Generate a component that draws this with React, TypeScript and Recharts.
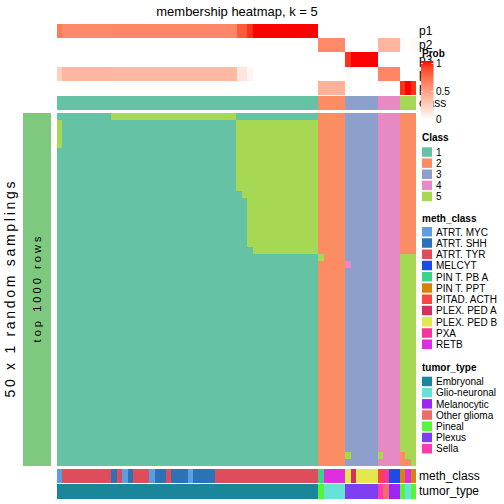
import React from 'react';
import { ComposedChart, XAxis, YAxis, ReferenceArea } from 'recharts';

const FONT = '"Liberation Sans", Arial, Helvetica, sans-serif';

// ---------- data ----------
const classLevels = ['1', '2', '3', '4', '5'];
const classColors = ['#66C2A5', '#FC8D62', '#8DA0CB', '#E78AC3', '#A6D854'];

const sampleClass = [
  1, 1, 1, 1, 1, 1, 1, 1,
  1, 1, 1, 1, 1, 1, 1, 1,
  1, 1, 1, 1, 1, 1, 1, 1,
  1, 1, 1, 1, 1, 1, 1, 1,
  1, 1, 1, 1, 1, 1, 1, 1,
  1, 1, 1, 1, 1, 1, 1, 1,
  2, 2, 2, 2, 2,
  3, 3, 3, 3, 3, 3,
  4, 4, 4, 4,
  5, 5, 5,
];

const p1 = [
  0.66, 0.6, 0.6, 0.6, 0.6, 0.6, 0.6, 0.6,
  0.6, 0.6, 0.61, 0.61, 0.61, 0.61, 0.61, 0.61,
  0.61, 0.61, 0.61, 0.61, 0.61, 0.61, 0.61, 0.61,
  0.61, 0.61, 0.61, 0.61, 0.61, 0.61, 0.61, 0.61,
  0.61, 0.8, 0.8, 0.93, 1, 1, 1, 1,
  1, 1, 1, 1, 1, 1, 1, 1,
  0, 0, 0, 0, 0,
  0, 0, 0, 0, 0, 0,
  0, 0, 0, 0,
  0, 0, 0,
];
const p2 = [
  0, 0, 0, 0, 0, 0, 0, 0,
  0, 0, 0, 0, 0, 0, 0, 0,
  0, 0, 0, 0, 0, 0, 0, 0,
  0, 0, 0, 0, 0, 0, 0, 0,
  0, 0, 0, 0, 0, 0, 0, 0,
  0, 0, 0, 0, 0, 0, 0, 0,
  0.6, 0.6, 0.6, 0.6, 0.6,
  0, 0, 0, 0, 0, 0,
  0.38, 0.38, 0.38, 0.38,
  0.03, 0, 0.03,
];
const p3 = [
  0, 0, 0, 0, 0, 0, 0, 0,
  0, 0, 0, 0, 0, 0, 0, 0,
  0, 0, 0, 0, 0, 0, 0, 0,
  0, 0, 0, 0, 0, 0, 0, 0,
  0, 0, 0, 0, 0, 0, 0, 0,
  0, 0, 0, 0, 0, 0, 0, 0,
  0, 0, 0, 0, 0,
  0.93, 1, 1, 1, 1, 1,
  0, 0, 0, 0,
  0, 0, 0,
];
const p4 = [
  0.25, 0.38, 0.38, 0.38, 0.38, 0.38, 0.38, 0.38,
  0.38, 0.38, 0.37, 0.37, 0.37, 0.37, 0.37, 0.37,
  0.37, 0.37, 0.37, 0.37, 0.37, 0.37, 0.37, 0.37,
  0.37, 0.37, 0.37, 0.37, 0.37, 0.37, 0.37, 0.37,
  0.37, 0.13, 0.13, 0.05, 0, 0, 0, 0,
  0, 0, 0, 0, 0, 0, 0, 0,
  0, 0, 0, 0, 0,
  0.02, 0, 0, 0, 0, 0,
  0.62, 0.62, 0.62, 0.62,
  0, 0, 0,
];
const p5 = [
  0, 0, 0, 0, 0, 0, 0, 0,
  0, 0, 0, 0, 0, 0, 0, 0,
  0, 0, 0, 0, 0, 0, 0, 0,
  0, 0, 0, 0, 0, 0, 0, 0,
  0, 0, 0, 0, 0, 0, 0, 0,
  0, 0, 0, 0, 0, 0, 0, 0,
  0.4, 0.4, 0.4, 0.4, 0.4,
  0.03, 0, 0, 0, 0, 0,
  0.02, 0, 0, 0,
  0.93, 1, 0.93,
];
const probLabels = ['p1', 'p2', 'p3', 'p4', 'p5'];

const methLevels = ['ATRT. MYC', 'ATRT. SHH', 'ATRT. TYR', 'MELCYT', 'PIN T. PB A', 'PIN T. PPT',
  'PITAD. ACTH', 'PLEX. PED A', 'PLEX. PED B', 'PXA', 'RETB'];
const methColors = ['#5B9FE3', '#2C72B6', '#DD4D5C', '#1E4AE6', '#3DD18A', '#D8820A',
  '#FC4444', '#D42F63', '#E5E84D', '#FA3599', '#DF2EDF'];
const methClass = [
  'ATRT. MYC', 'ATRT. TYR', 'ATRT. TYR', 'ATRT. TYR', 'ATRT. TYR', 'ATRT. TYR', 'ATRT. TYR', 'ATRT. TYR',
  'ATRT. TYR', 'ATRT. TYR', 'ATRT. SHH', 'ATRT. TYR', 'ATRT. MYC', 'ATRT. SHH', 'ATRT. TYR', 'ATRT. TYR',
  'ATRT. TYR', 'ATRT. MYC', 'ATRT. SHH', 'ATRT. SHH', 'ATRT. TYR', 'ATRT. SHH', 'ATRT. SHH', 'ATRT. SHH',
  'ATRT. MYC', 'ATRT. SHH', 'ATRT. SHH', 'ATRT. SHH', 'ATRT. SHH', 'ATRT. TYR', 'ATRT. TYR', 'ATRT. TYR',
  'ATRT. TYR', 'ATRT. TYR', 'ATRT. TYR', 'ATRT. TYR', 'ATRT. TYR', 'ATRT. TYR', 'ATRT. TYR', 'ATRT. TYR',
  'ATRT. TYR', 'ATRT. TYR', 'ATRT. TYR', 'ATRT. TYR', 'ATRT. TYR', 'ATRT. TYR', 'ATRT. TYR', 'ATRT. TYR',
  'PIN T. PB A', 'RETB', 'RETB', 'RETB', 'RETB',
  'PLEX. PED B', 'PLEX. PED A', 'PLEX. PED B', 'PLEX. PED B', 'PLEX. PED B', 'PLEX. PED B',
  'PITAD. ACTH', 'PXA', 'MELCYT', 'MELCYT',
  'PIN T. PPT', 'RETB', 'PIN T. PPT',
];

const tumorLevels = ['Embryonal', 'Glio-neuronal', 'Melanocytic', 'Other glioma', 'Pineal', 'Plexus', 'Sella'];
const tumorColors = ['#1A869A', '#66E3D5', '#9F26F2', '#F46B6B', '#55F53A', '#7E3FF2', '#FF3AAC'];
const tumorType = [
  'Embryonal', 'Embryonal', 'Embryonal', 'Embryonal', 'Embryonal', 'Embryonal', 'Embryonal', 'Embryonal',
  'Embryonal', 'Embryonal', 'Embryonal', 'Embryonal', 'Embryonal', 'Embryonal', 'Embryonal', 'Embryonal',
  'Embryonal', 'Embryonal', 'Embryonal', 'Embryonal', 'Embryonal', 'Embryonal', 'Embryonal', 'Embryonal',
  'Embryonal', 'Embryonal', 'Embryonal', 'Embryonal', 'Embryonal', 'Embryonal', 'Embryonal', 'Embryonal',
  'Embryonal', 'Embryonal', 'Embryonal', 'Embryonal', 'Embryonal', 'Embryonal', 'Embryonal', 'Embryonal',
  'Embryonal', 'Embryonal', 'Embryonal', 'Embryonal', 'Embryonal', 'Embryonal', 'Embryonal', 'Embryonal',
  'Pineal', 'Glio-neuronal', 'Glio-neuronal', 'Glio-neuronal', 'Glio-neuronal',
  'Plexus', 'Plexus', 'Plexus', 'Plexus', 'Plexus', 'Plexus',
  'Sella', 'Other glioma', 'Melanocytic', 'Melanocytic',
  'Pineal', 'Glio-neuronal', 'Pineal',
];

// class assigned in each of the 50 random samplings (rows) for each of the 66 samples (columns)
const samplingRows = [
  '11111111 11555555 55555555 55555555 51111111 11111111 | 22222 333333 4444 222',
  '51111111 11111111 11111111 11111111 15555555 55555555 | 22222 333333 4444 222',
  '51111111 11111111 11111111 11111111 15555555 55555555 | 22222 333333 4444 222',
  '51111111 11111111 11111111 11111111 15555555 55555555 | 22222 333333 4444 222',
  '51111111 11111111 11111111 11111111 15555555 55555555 | 22222 333333 4444 222',
  '11111111 11111111 11111111 11111111 15555555 55555555 | 22222 333333 4444 222',
  '11111111 11111111 11111111 11111111 15555555 55555555 | 22222 333333 4444 222',
  '11111111 11111111 11111111 11111111 15555555 55555555 | 22222 333333 4444 222',
  '11111111 11111111 11111111 11111111 15555555 55555555 | 22222 333333 4444 222',
  '11111111 11111111 11111111 11111111 15555555 55555555 | 22222 333333 4444 222',
  '11111111 11111111 11111111 11111111 15555555 55555555 | 22222 333333 4444 222',
  '11111111 11111111 11111111 11111111 11555555 55555555 | 22222 333333 4444 222',
  '11111111 11111111 11111111 11111111 11155555 55555555 | 22222 333333 4444 222',
  '11111111 11111111 11111111 11111111 11155555 55555555 | 22222 333333 4444 222',
  '11111111 11111111 11111111 11111111 11155555 55555555 | 22222 333333 4444 222',
  '11111111 11111111 11111111 11111111 11155555 55555555 | 22222 333333 4444 222',
  '11111111 11111111 11111111 11111111 11155555 55555555 | 22222 333333 4444 222',
  '11111111 11111111 11111111 11111111 11155555 55555555 | 22222 333333 4444 222',
  '11111111 11111111 11111111 11111111 11155555 55555555 | 22222 333333 4444 222',
  '11111111 11111111 11111111 11111111 11115555 55555555 | 22222 333333 4444 222',
  '11111111 11111111 11111111 11111111 11111111 11111111 | 52222 333333 4444 555',
  '11111111 11111111 11111111 11111111 11111111 11111111 | 22222 433333 4444 555',
  '11111111 11111111 11111111 11111111 11111111 11111111 | 22222 333333 4444 555',
  '11111111 11111111 11111111 11111111 11111111 11111111 | 22222 333333 4444 555',
  '11111111 11111111 11111111 11111111 11111111 11111111 | 22222 333333 4444 555',
  '11111111 11111111 11111111 11111111 11111111 11111111 | 22222 333333 4444 555',
  '11111111 11111111 11111111 11111111 11111111 11111111 | 22222 333333 4444 555',
  '11111111 11111111 11111111 11111111 11111111 11111111 | 22222 333333 4444 555',
  '11111111 11111111 11111111 11111111 11111111 11111111 | 22222 333333 4444 555',
  '11111111 11111111 11111111 11111111 11111111 11111111 | 22222 333333 4444 555',
  '11111111 11111111 11111111 11111111 11111111 11111111 | 22222 333333 4444 555',
  '11111111 11111111 11111111 11111111 11111111 11111111 | 22222 333333 4444 555',
  '11111111 11111111 11111111 11111111 11111111 11111111 | 22222 333333 4444 555',
  '11111111 11111111 11111111 11111111 11111111 11111111 | 22222 333333 4444 555',
  '11111111 11111111 11111111 11111111 11111111 11111111 | 22222 333333 4444 555',
  '11111111 11111111 11111111 11111111 11111111 11111111 | 22222 333333 4444 555',
  '11111111 11111111 11111111 11111111 11111111 11111111 | 22222 333333 4444 555',
  '11111111 11111111 11111111 11111111 11111111 11111111 | 22222 333333 4444 555',
  '11111111 11111111 11111111 11111111 11111111 11111111 | 22222 333333 4444 555',
  '11111111 11111111 11111111 11111111 11111111 11111111 | 22222 333333 4444 555',
  '11111111 11111111 11111111 11111111 11111111 11111111 | 22222 333333 4444 555',
  '11111111 11111111 11111111 11111111 11111111 11111111 | 22222 333333 4444 555',
  '11111111 11111111 11111111 11111111 11111111 11111111 | 22222 333333 4444 555',
  '11111111 11111111 11111111 11111111 11111111 11111111 | 22222 333333 4444 555',
  '11111111 11111111 11111111 11111111 11111111 11111111 | 22222 333333 4444 555',
  '11111111 11111111 11111111 11111111 11111111 11111111 | 22222 333333 4444 555',
  '11111111 11111111 11111111 11111111 11111111 11111111 | 22222 333333 4444 555',
  '11111111 11111111 11111111 11111111 11111111 11111111 | 22222 333333 4444 555',
  '11111111 11111111 11111111 11111111 11111111 11111111 | 22222 533333 5444 255',
  '11111111 11111111 11111111 11111111 11111111 11111111 | 22222 333333 4444 225',
];

const rowSplitLabel = 'top 1000 rows';
const rowSplitColor = '#7FC97F';
const probTicks = [0, 0.5, 1];

// ---------- colour helpers ----------
function labToHex(L: number, a: number, b: number): string {
  const fy = (L + 16) / 116;
  const fx = fy + a / 500;
  const fz = fy - b / 200;
  const inv = (t: number) => (t > 6 / 29 ? t * t * t : 3 * (6 / 29) * (6 / 29) * (t - 4 / 29));
  const X = 0.95047 * inv(fx);
  const Y = inv(fy);
  const Z = 1.08883 * inv(fz);
  const lin = [
    3.2406 * X - 1.5372 * Y - 0.4986 * Z,
    -0.9689 * X + 1.8758 * Y + 0.0415 * Z,
    0.0557 * X - 0.204 * Y + 1.057 * Z,
  ];
  return '#' + lin.map((c) => {
    const v = Math.min(1, Math.max(0, c));
    const g = v <= 0.0031308 ? 12.92 * v : 1.055 * Math.pow(v, 1 / 2.4) - 0.055;
    return Math.round(g * 255).toString(16).padStart(2, '0');
  }).join('');
}
function probColor(v: number): string {
  return labToHex(100 + (53.24 - 100) * v, 80.09 * v, 67.2 * v);
}

// ---------- grid drawn through recharts scales ----------
type Cell = { x1: number; x2: number; y1: number; y2: number; fill: string };
function toCells(colors: string[][]): Cell[] {
  const cells: Cell[] = [];
  colors.forEach((row, r) => {
    let start = 0;
    for (let c = 1; c <= row.length; c++) {
      if (c === row.length || row[c] !== row[start]) {
        cells.push({ x1: start, x2: c, y1: r, y2: r + 1, fill: row[start] });
        start = c;
      }
    }
  });
  return cells;
}

function Grid({ colors, left, top, width, height }: { colors: string[][]; left: number; top: number; width: number; height: number }) {
  const nRows = colors.length;
  const nCols = colors[0].length;
  const cells = toCells(colors);
  return (
    <div style={{ position: 'absolute', left, top, width, height, shapeRendering: 'crispEdges' } as React.CSSProperties}>
      <ComposedChart width={width} height={height} margin={{ top: 0, right: 0, bottom: 0, left: 0 }} data={[{ x: 0, y: 0 }]}>
        <XAxis type="number" dataKey="x" domain={[0, nCols]} hide allowDataOverflow />
        <YAxis type="number" dataKey="y" domain={[0, nRows]} hide reversed allowDataOverflow />
        {cells.map((c, i) => (
          <ReferenceArea key={i} x1={c.x1} x2={c.x2} y1={c.y1} y2={c.y2} fill={c.fill} fillOpacity={1}
            stroke="none" ifOverflow="visible" />
        ))}
      </ComposedChart>
    </div>
  );
}

export default function App() {
  const L = 57, W = 359;
  const probMatrix = [p1, p2, p3, p4, p5].map((arr) => arr.map(probColor));
  const classRow = [sampleClass.map((c) => classColors[c - 1])];
  const mainMatrix = samplingRows.map((s) => s.replace(/[^0-9]/g, '').split('').map((d) => classColors[Number(d) - 1]));
  const methRow = [methClass.map((m) => methColors[methLevels.indexOf(m)])];
  const tumorRow = [tumorType.map((t) => tumorColors[tumorLevels.indexOf(t)])];

  const txt = { fontFamily: FONT, fill: '#000' };
  const classY0 = 147.3, classStep = 11.1;
  const methY0 = 227, methStep = 11.25;
  const tumY0 = 376.7, tumStep = 11.2;

  return (
    <div style={{ position: 'absolute', left: 0, top: 0, width: 504, height: 504, background: '#fff', overflow: 'hidden' }}>
      <Grid colors={probMatrix} left={L} top={24} width={W} height={71} />
      <Grid colors={classRow} left={L} top={96} width={W} height={14} />
      <Grid colors={[[rowSplitColor]]} left={23} top={113} width={28} height={353} />
      <Grid colors={mainMatrix} left={L} top={113} width={W} height={353} />
      <Grid colors={methRow} left={L} top={469} width={W} height={14} />
      <Grid colors={tumorRow} left={L} top={484} width={W} height={14.5} />

      <svg width={504} height={504} style={{ position: 'absolute', left: 0, top: 0, pointerEvents: 'none' }}>
        <text x={237} y={11} textAnchor="middle" dominantBaseline="central" fontSize={13} {...txt}>membership heatmap, k = 5</text>
        <text transform="rotate(-90, 10, 289.5)" x={10} y={289.5} textAnchor="middle" dominantBaseline="central" fontSize={14}
          textLength={216} lengthAdjust="spacing" {...txt}>50 x 1 random samplings</text>
        <text transform="rotate(-90, 37, 289.5)" x={37} y={289.5} textAnchor="middle" dominantBaseline="central" fontSize={11}
          textLength={106} lengthAdjust="spacing" {...txt}>{rowSplitLabel}</text>

        {probLabels.map((p, i) => (
          <text key={p} x={419} y={24 + 14.2 * i + 7.1} dominantBaseline="central" fontSize={12} {...txt}>{p}</text>
        ))}
        <text x={419} y={103} dominantBaseline="central" fontSize={12} {...txt}>class</text>
        <text x={419} y={476} dominantBaseline="central" fontSize={12} {...txt}>meth_class</text>
        <text x={419} y={491} dominantBaseline="central" fontSize={12} {...txt}>tumor_type</text>

        {/* Prob legend */}
        <defs>
          <linearGradient id="probGrad" x1="0" y1="1" x2="0" y2="0">
            {[0, 0.1, 0.2, 0.3, 0.4, 0.5, 0.6, 0.7, 0.8, 0.9, 1].map((v) => (
              <stop key={v} offset={v} stopColor={probColor(v)} />
            ))}
          </linearGradient>
        </defs>
        <text x={422} y={53} dominantBaseline="central" fontSize={10} fontWeight="bold" {...txt}>Prob</text>
        <rect x={421} y={61} width={12.5} height={59} fill="url(#probGrad)" />
        {probTicks.map((t) => {
          const y = 119.5 - t * 56;
          return (
            <g key={t}>
              <line x1={421} x2={423} y1={y} y2={y} stroke="#fff" strokeWidth={1} />
              <line x1={431.5} x2={433.5} y1={y} y2={y} stroke="#fff" strokeWidth={1} />
              <text x={436} y={y} dominantBaseline="central" fontSize={10} {...txt}>{t}</text>
            </g>
          );
        })}

        {/* Class legend */}
        <text x={422} y={137} dominantBaseline="central" fontSize={10} fontWeight="bold" {...txt}>Class</text>
        {classLevels.map((c, i) => (
          <g key={c}>
            <rect x={422} y={classY0 + classStep * i} width={10} height={9.5} fill={classColors[i]} />
            <text x={436} y={classY0 + classStep * i + 5} dominantBaseline="central" fontSize={10} {...txt}>{c}</text>
          </g>
        ))}

        {/* meth_class legend */}
        <text x={422} y={218} dominantBaseline="central" fontSize={10} fontWeight="bold" {...txt}>meth_class</text>
        {methLevels.map((m, i) => (
          <g key={m}>
            <rect x={422} y={methY0 + methStep * i} width={10} height={9.5} fill={methColors[i]} />
            <text x={436} y={methY0 + methStep * i + 5} dominantBaseline="central" fontSize={10} {...txt}>{m}</text>
          </g>
        ))}

        {/* tumor_type legend */}
        <text x={422} y={367} dominantBaseline="central" fontSize={10} fontWeight="bold" {...txt}>tumor_type</text>
        {tumorLevels.map((t, i) => (
          <g key={t}>
            <rect x={422} y={tumY0 + tumStep * i} width={10} height={9.5} fill={tumorColors[i]} />
            <text x={436} y={tumY0 + tumStep * i + 5} dominantBaseline="central" fontSize={10} {...txt}>{t}</text>
          </g>
        ))}
      </svg>
    </div>
  );
}
